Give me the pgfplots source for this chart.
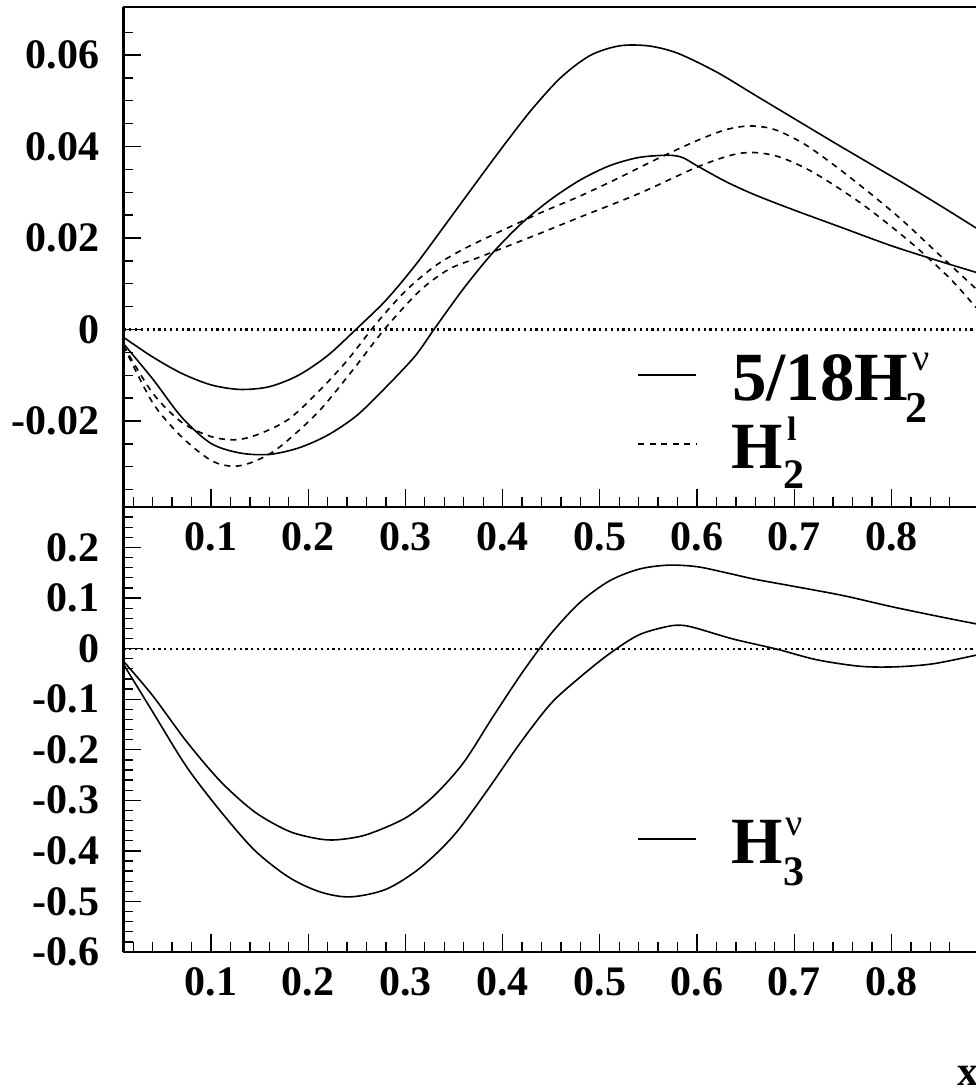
\documentclass[border=0pt]{standalone}
\usepackage{fontspec}
\setmainfont{Liberation Serif}
\usepackage{pgfplots}
\pgfplotsset{compat=1.18}

\newcommand{\tl}{\fontsize{42}{42}\selectfont\bfseries}
\newcommand{\bsz}[1]{\fontsize{#1}{#1}\selectfont\bfseries}

\tikzset{
  zeroline/.style={line width=2.2pt, dash pattern=on 2.2pt off 3.6pt},
  dsh/.style={dash pattern=on 6pt off 5.5pt},
}
\pgfplotsset{
  rootpad/.style={
    scale only axis, width=852.5pt,
    xmin=0.01, xmax=0.887,
    axis x line*=box, axis y line*=left,
    axis line style={line width=2.5pt, -},
    tick align=inside, xtick pos=bottom, ytick pos=left,
    major tick length=18pt, minor tick length=10pt,
    tick style={black, line width=1.3pt},
    xtick={0.1,0.2,0.3,0.4,0.5,0.6,0.7,0.8},
    xticklabels={0.1,0.2,0.3,0.4,0.5,0.6,0.7,0.8},
    minor xtick={0.02,0.04,0.06,0.08,0.12,0.14,0.16,0.18,0.22,0.24,0.26,0.28,0.32,0.34,0.36,0.38,0.42,0.44,0.46,0.48,0.52,0.54,0.56,0.58,0.62,0.64,0.66,0.68,0.72,0.74,0.76,0.78,0.82,0.84,0.86},
    ticklabel style={font=\tl, inner sep=0pt},
    xticklabel style={yshift=-15pt},
    yticklabel style={xshift=-24pt},
    every axis plot/.append style={line width=1.6pt, black},
  },
}

\begin{document}
\begin{tikzpicture}
\path[use as bounding box] (0pt,0pt) rectangle (976pt,-1088pt);

% upper pad: 5/18 H2(nu) band (solid), H2(l) band (dashed)
\begin{axis}[rootpad, at={(123.5pt,-507pt)}, anchor=south west, height=500pt,
  ymin=-0.0388, ymax=0.0705,
  ytick={-0.02,0,0.02,0.04,0.06},
  yticklabels={-0.02,0,0.02,0.04,0.06},
  minor ytick={-0.035,-0.03,-0.025,-0.015,-0.01,-0.005,0.005,0.01,0.015,0.025,0.03,0.035,0.045,0.05,0.055,0.065}]
  \addplot[zeroline] coordinates {(0.01,0) (0.887,0)};
  \addplot[smooth] coordinates {(0.010,-0.0017) (0.040,-0.0060) (0.070,-0.0096) (0.100,-0.0121) (0.130,-0.0131) (0.160,-0.0125) (0.190,-0.0100) (0.220,-0.0057) (0.250,0.0002) (0.280,0.0064) (0.310,0.0140) (0.340,0.0226) (0.370,0.0313) (0.400,0.0399) (0.430,0.0481) (0.460,0.0551) (0.490,0.0599) (0.520,0.0620) (0.550,0.0620) (0.580,0.0604) (0.620,0.0563) (0.660,0.0512) (0.700,0.0461) (0.740,0.0410) (0.780,0.0360) (0.820,0.0310) (0.860,0.0258) (0.887,0.0222)};
  \addplot[smooth] coordinates {(0.010,-0.0031) (0.040,-0.0108) (0.070,-0.0192) (0.100,-0.0249) (0.130,-0.0270) (0.160,-0.0273) (0.190,-0.0259) (0.220,-0.0231) (0.250,-0.0188) (0.280,-0.0126) (0.310,-0.0058) (0.330,0.0002) (0.360,0.0090) (0.390,0.0168) (0.420,0.0233) (0.450,0.0285) (0.480,0.0327) (0.510,0.0358) (0.540,0.0376) (0.570,0.0381) (0.585,0.0376) (0.600,0.0358) (0.630,0.0323) (0.660,0.0294) (0.700,0.0261) (0.750,0.0222) (0.800,0.0183) (0.850,0.0149) (0.887,0.0125)};
  \addplot[smooth, dsh] coordinates {(0.010,-0.0035) (0.040,-0.0139) (0.070,-0.0203) (0.100,-0.0234) (0.126,-0.0241) (0.150,-0.0228) (0.180,-0.0196) (0.210,-0.0137) (0.240,-0.0068) (0.270,0.0013) (0.300,0.0084) (0.330,0.0138) (0.360,0.0176) (0.400,0.0217) (0.440,0.0256) (0.480,0.0292) (0.520,0.0332) (0.560,0.0374) (0.600,0.0413) (0.630,0.0437) (0.655,0.0445) (0.680,0.0437) (0.710,0.0406) (0.740,0.0361) (0.775,0.0303) (0.810,0.0241) (0.850,0.0162) (0.887,0.0089)};
  \addplot[smooth, dsh] coordinates {(0.010,-0.0035) (0.040,-0.0160) (0.070,-0.0235) (0.100,-0.0286) (0.123,-0.0299) (0.145,-0.0288) (0.170,-0.0258) (0.210,-0.0181) (0.245,-0.0091) (0.279,0.0002) (0.315,0.0085) (0.345,0.0132) (0.376,0.0158) (0.430,0.0203) (0.480,0.0246) (0.540,0.0297) (0.600,0.0355) (0.635,0.0381) (0.658,0.0387) (0.685,0.0377) (0.720,0.0343) (0.770,0.0274) (0.820,0.0190) (0.860,0.0112) (0.887,0.0048)};
\end{axis}

% lower pad: H3(nu) band
\begin{axis}[rootpad, at={(123.5pt,-952pt)}, anchor=south west, height=445pt,
  ymin=-0.6, ymax=0.28,
  ytick={-0.6,-0.5,-0.4,-0.3,-0.2,-0.1,0,0.1,0.2},
  yticklabels={-0.6,-0.5,-0.4,-0.3,-0.2,-0.1,0,0.1,0.2},
  minor ytick={-0.58,-0.56,-0.54,-0.52,-0.48,-0.46,-0.44,-0.42,-0.38,-0.36,-0.34,-0.32,-0.28,-0.26,-0.24,-0.22,-0.18,-0.16,-0.14,-0.12,-0.08,-0.06,-0.04,-0.02,0.02,0.04,0.06,0.08,0.12,0.14,0.16,0.18,0.22,0.24,0.26,0.28}]
  \addplot[zeroline] coordinates {(0.01,0) (0.887,0)};
  \addplot[smooth] coordinates {(0.010,-0.025) (0.040,-0.093) (0.075,-0.184) (0.110,-0.263) (0.145,-0.323) (0.180,-0.361) (0.210,-0.376) (0.230,-0.378) (0.260,-0.368) (0.300,-0.335) (0.330,-0.290) (0.360,-0.225) (0.390,-0.135) (0.420,-0.048) (0.450,0.030) (0.480,0.092) (0.510,0.134) (0.540,0.157) (0.570,0.165) (0.600,0.162) (0.630,0.150) (0.660,0.137) (0.700,0.123) (0.750,0.105) (0.800,0.083) (0.850,0.063) (0.887,0.049)};
  \addplot[smooth] coordinates {(0.010,-0.031) (0.040,-0.125) (0.075,-0.234) (0.110,-0.322) (0.145,-0.399) (0.180,-0.452) (0.212,-0.481) (0.243,-0.491) (0.280,-0.476) (0.315,-0.434) (0.350,-0.369) (0.384,-0.281) (0.418,-0.187) (0.450,-0.108) (0.480,-0.056) (0.510,-0.010) (0.540,0.027) (0.570,0.044) (0.585,0.046) (0.600,0.040) (0.637,0.019) (0.682,-0.001) (0.723,-0.022) (0.768,-0.035) (0.805,-0.036) (0.843,-0.030) (0.887,-0.013)};
\end{axis}

% legends
\draw[line width=1.6pt] (638pt,-375pt) -- (696pt,-375pt);
\draw[line width=1.6pt, dsh] (638pt,-444pt) -- (696pt,-444pt);
\draw[line width=1.6pt] (638pt,-839pt) -- (696pt,-839pt);
\node[anchor=base west, inner sep=0pt, font=\bsz{69}] at (732pt,-400pt) {5/18H};
\node[anchor=base west, inner sep=0pt, font=\fontsize{38}{38}\selectfont] at (912pt,-370pt) {ν};
\node[anchor=base west, inner sep=0pt, font=\bsz{44}] at (905pt,-422pt) {2};
\node[anchor=base west, inner sep=0pt, font=\bsz{66}] at (731pt,-468pt) {H};
\node[anchor=base west, inner sep=0pt, font=\bsz{34}] at (787pt,-440pt) {l};
\node[anchor=base west, inner sep=0pt, font=\bsz{42}] at (783pt,-488pt) {2};
\node[anchor=base west, inner sep=0pt, font=\bsz{66}] at (731pt,-863pt) {H};
\node[anchor=base west, inner sep=0pt, font=\fontsize{38}{38}\selectfont] at (785pt,-835pt) {ν};
\node[anchor=base west, inner sep=0pt, font=\bsz{42}] at (783pt,-885pt) {3};
\node[anchor=base west, inner sep=0pt, font=\tl] at (957pt,-1085pt) {x};
\end{tikzpicture}
\end{document}
